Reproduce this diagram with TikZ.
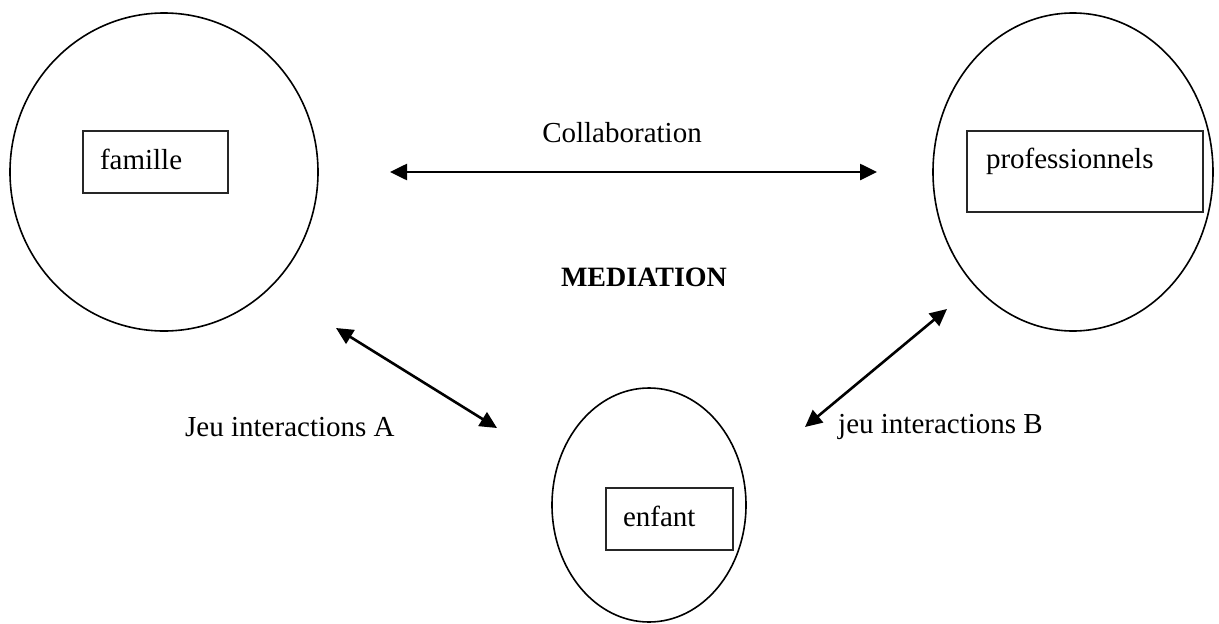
\documentclass[tikz,border=0pt]{standalone}
\usepackage{fontspec}
\setmainfont{Liberation Serif}
\usetikzlibrary{shapes.geometric,arrows.meta}
\begin{document}
\begin{tikzpicture}[x=1pt,y=-1pt,
  ring/.style={draw, ellipse, line width=1.6pt, inner sep=0pt},
  tagbox/.style={draw=black!85, line width=2.2pt, rectangle, inner sep=0pt, align=left,
     font=\fontsize{29}{34}\selectfont},
  lbl/.style={font=\fontsize{29}{34}\selectfont, inner sep=0pt},
  dbl/.style={line width=2.6pt, {Triangle[length=17pt,width=16pt]}-{Triangle[length=17pt,width=16pt]}}
]
\useasboundingbox (0,0) rectangle (1219,624);
% circles
\node[ring, minimum width=308pt, minimum height=318pt] (fam) at (164,172) {};
\node[ring, minimum width=280pt, minimum height=318pt] (pro) at (1073,172) {};
\node[ring, minimum width=194pt, minimum height=234pt] (enf) at (649,505) {};
% boxes
\node[tagbox, minimum width=145pt, minimum height=62pt, text width=111pt, text depth=6pt] (famb) at (155.5,162) {famille};
\node[tagbox, minimum width=236pt, minimum height=81pt, text width=198pt, text depth=27pt] (prob) at (1085,171.5) {professionnels};
\node[tagbox, minimum width=127pt, minimum height=62pt, text width=93pt, text depth=6pt] (enfb) at (669.5,519) {enfant};
% labels
\node[lbl] (collab) at (622,133) {Collaboration};
\node[lbl, font=\fontsize{28}{34}\selectfont\bfseries] (med) at (644,277) {MEDIATION};
\node[lbl, anchor=west] (ja) at (185,427) {Jeu interactions A};
\node[lbl, anchor=west] (jb) at (838,427) {jeu interactions B};
% arrow ends
\coordinate (a1) at (336,328);
\coordinate (a2) at (497,428);
\coordinate (b1) at (947,309);
\coordinate (b2) at (805,427);
\draw[dbl, shorten <=226pt, shorten >=196pt] (fam.center) -- (pro.center);
\draw[dbl] (a1) -- (a2);
\draw[dbl] (b1) -- (b2);
\end{tikzpicture}
\end{document}
